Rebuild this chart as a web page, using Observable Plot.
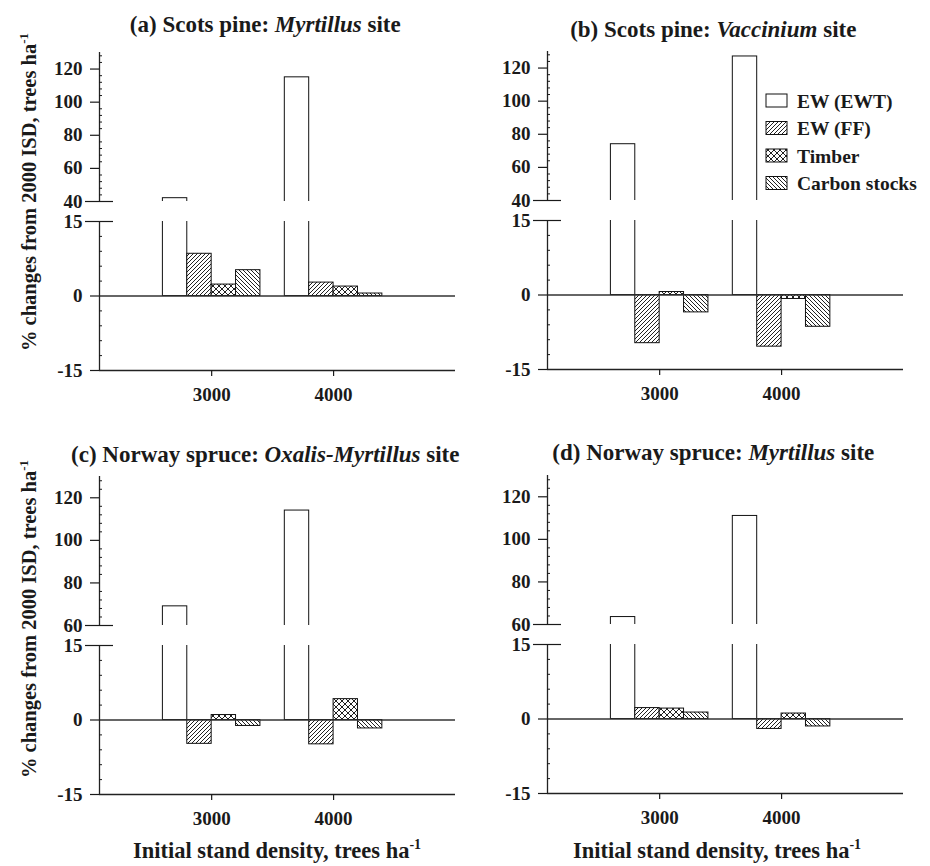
<!DOCTYPE html>
<html><head><meta charset="utf-8">
<script src="https://cdn.jsdelivr.net/npm/d3@7"></script>
<script src="https://cdn.jsdelivr.net/npm/@observablehq/plot@0.6"></script>
<style>
html,body{margin:0;padding:0;background:#fff;}
#root{position:relative;width:930px;height:866px;overflow:hidden;font-family:"Liberation Serif","Times New Roman",serif;}
#root svg.part{position:absolute;}
#overlay{position:absolute;left:0;top:0;pointer-events:none;}
</style></head><body>
<svg width="0" height="0" style="position:absolute">
 <defs>
  <pattern id="patFF" patternUnits="userSpaceOnUse" width="4" height="4" shape-rendering="crispEdges">
   <rect width="4" height="4" fill="#fff"/>
   <g fill="#222"><rect x="3" y="0" width="1" height="1"/><rect x="2" y="1" width="1" height="1"/><rect x="1" y="2" width="1" height="1"/><rect x="0" y="3" width="1" height="1"/></g>
  </pattern>
  <pattern id="patCarbon" patternUnits="userSpaceOnUse" width="4" height="4" shape-rendering="crispEdges">
   <rect width="4" height="4" fill="#fff"/>
   <g fill="#222"><rect x="0" y="0" width="1" height="1"/><rect x="1" y="1" width="1" height="1"/><rect x="2" y="2" width="1" height="1"/><rect x="3" y="3" width="1" height="1"/></g>
  </pattern>
  <pattern id="patTimber" patternUnits="userSpaceOnUse" width="6" height="6" shape-rendering="crispEdges">
   <rect width="6" height="6" fill="#fff"/>
   <g fill="#222">
    <rect x="0" y="0" width="1" height="1"/><rect x="1" y="1" width="1" height="1"/><rect x="2" y="2" width="1" height="1"/>
    <rect x="3" y="3" width="1" height="1"/><rect x="4" y="4" width="1" height="1"/><rect x="5" y="5" width="1" height="1"/>
    <rect x="5" y="0" width="1" height="1"/><rect x="4" y="1" width="1" height="1"/><rect x="3" y="2" width="1" height="1"/>
    <rect x="2" y="3" width="1" height="1"/><rect x="1" y="4" width="1" height="1"/><rect x="0" y="5" width="1" height="1"/>
   </g>
  </pattern>
 </defs>
</svg>
<div id="root"></div>
<script>
// ---------- data ----------
const densities = [3000, 4000];
const seriesNames = ["EW (EWT)", "EW (FF)", "Timber", "Carbon stocks"];
// values per panel (a, b, c, d); each pair = [3000, 4000] trees/ha
const ewEWT  = [[42, 115], [74, 127], [69, 114], [63.5, 111]];
const ewFF   = [[8.5, 2.7], [-9.7, -10.4], [-4.8, -4.9], [2.2, -2.0]];
const timber = [[2.3, 1.9], [0.6, -0.8], [1.0, 4.2], [2.1, 1.1]];
const carbon = [[5.2, 0.5], [-3.5, -6.4], [-1.2, -1.7], [1.3, -1.5]];
const panelTags = ["(a)", "(b)", "(c)", "(d)"];
const panelSpecies = ["Scots pine:", "Scots pine:", "Norway spruce:", "Norway spruce:"];
const panelSites = ["Myrtillus", "Vaccinium", "Oxalis-Myrtillus", "Myrtillus"];
const upperTicks = [[40, 60, 80, 100, 120], [40, 60, 80, 100, 120], [60, 80, 100, 120], [60, 80, 100, 120]];
const lowerTicks = [-15, 0, 15];
const yLabelText = "% changes from 2000 ISD, trees ha";
const xLabelText = "Initial stand density, trees ha";

// ---------- layout / style ----------
const yTop = 130;
const xDomain = [2080, 5000];
const barWidth = 200;
const patternFills = ["#fff", "url(#patFF)", "url(#patTimber)", "url(#patCarbon)"];
const colLeft = [0, 448, 0, 448];
const upperFrameTop = [52, 51, 476, 475];
const lowerFrameTop = [221, 220, 645, 644];
const frameH = 149;
const titleBase = [32, 37, 462, 460];
const FONT = "Liberation Serif, Times New Roman, serif";
const tickFont = {fontFamily: FONT, fontWeight: "bold", fontSize: 19};

const seriesValues = [ewEWT, ewFF, timber, carbon];
function barsFor(p) {
  const rows = [];
  seriesValues.forEach((vals, i) => densities.forEach((d, j) => rows.push({
    series: seriesNames[i], density: d, value: vals[p][j],
    x1: d + (i - 2) * barWidth, x2: d + (i - 1) * barWidth
  })));
  return rows;
}

const root = document.getElementById("root");

function section(p, upper) {
  const ticks = upper ? upperTicks[p] : lowerTicks;
  const domain = upper ? [ticks[0], yTop] : [lowerTicks[0], lowerTicks[lowerTicks.length - 1]];
  const brk = upper ? domain[0] : domain[1];
  const step = upper ? 4 : 3;
  const minor = d3.range(domain[0], domain[1] + 1e-9, step).filter(v => !ticks.includes(v));
  const mT = 10, mB = upper ? 6 : 42;
  const marks = [
    Plot.rectY(barsFor(p), {x1: "x1", x2: "x2", y1: 0, y2: "value", fill: "series", stroke: "#111", strokeWidth: 1, clip: true}),
    upper ? null : Plot.ruleY([0], {stroke: "#333", strokeWidth: 1.3}),
    Plot.ruleX([xDomain[0]], {stroke: "#222", strokeWidth: 1.3}),
    upper ? null : Plot.ruleY([domain[0]], {stroke: "#222", strokeWidth: 1.3}),
    Plot.axisY({ticks: ticks.filter(v => v !== brk), tickSize: 9, tickPadding: 8, tickFormat: d => String(d), label: null, strokeWidth: 1.2, ...tickFont}),
    Plot.axisY({ticks: [brk], tickSize: 28, dx: 14, tickPadding: 3, tickFormat: d => String(d), label: null, strokeWidth: 1.2, ...tickFont}),
    Plot.axisY({ticks: minor, tickSize: 3, dx: 3, tickFormat: () => "", label: null, strokeWidth: 1}),
    upper ? null : Plot.axisX({ticks: densities, tickSize: 6, tickPadding: 11, tickFormat: d => String(d), label: null, strokeWidth: 1.2, ...tickFont})
  ].filter(Boolean);
  const svg = Plot.plot({
    width: 465, height: mT + frameH + mB,
    marginLeft: 99, marginRight: 10, marginTop: mT, marginBottom: mB,
    x: upper ? {domain: xDomain, axis: null} : {domain: xDomain},
    y: {domain},
    color: {type: "ordinal", domain: seriesNames, range: patternFills},
    style: {fontFamily: FONT, fontWeight: "bold", fontSize: "19px", color: "#1a1a1a", background: "transparent", overflow: "visible"},
    marks
  });
  svg.classList.add("part");
  svg.style.left = colLeft[p] + "px";
  svg.style.top = ((upper ? upperFrameTop[p] : lowerFrameTop[p]) - mT) + "px";
  root.appendChild(svg);
}

for (let p = 0; p < 4; p++) { section(p, true); section(p, false); }

// ---------- text overlay: titles, axis labels, legend ----------
const ov = d3.select(root).append("svg").attr("id", "overlay").attr("width", 930).attr("height", 866)
  .style("font-family", FONT).style("font-weight", "bold").attr("fill", "#1a1a1a");

panelTags.forEach((tag, p) => {
  const t = ov.append("text").attr("x", colLeft[p] + 99.3 + 166).attr("y", titleBase[p])
    .attr("text-anchor", "middle").style("font-size", "23px");
  t.append("tspan").text(tag + " " + panelSpecies[p] + " ");
  t.append("tspan").style("font-style", "italic").text(panelSites[p]);
  t.append("tspan").text(" site");
});

[192, 619].forEach(cy => {
  const t = ov.append("text").attr("transform", `translate(36,${cy}) rotate(-90)`)
    .attr("text-anchor", "middle").style("font-size", "20.5px");
  t.append("tspan").text(yLabelText);
  t.append("tspan").attr("dy", -8).style("font-size", "13px").text("-1");
});

[277, 717].forEach(cx => {
  const t = ov.append("text").attr("x", cx).attr("y", 858)
    .attr("text-anchor", "middle").style("font-size", "22.5px");
  t.append("tspan").text(xLabelText);
  t.append("tspan").attr("dy", -9).style("font-size", "14px").text("-1");
});

seriesNames.forEach((name, i) => {
  const base = 107.5 + 27.5 * i;
  ov.append("rect").attr("x", 766).attr("y", base - 13.5).attr("width", 21).attr("height", 13)
    .attr("fill", patternFills[i]).attr("stroke", "#111").attr("stroke-width", 1);
  ov.append("text").attr("x", 797).attr("y", base).style("font-size", "19.5px").text(name);
});
</script>
</body></html>
